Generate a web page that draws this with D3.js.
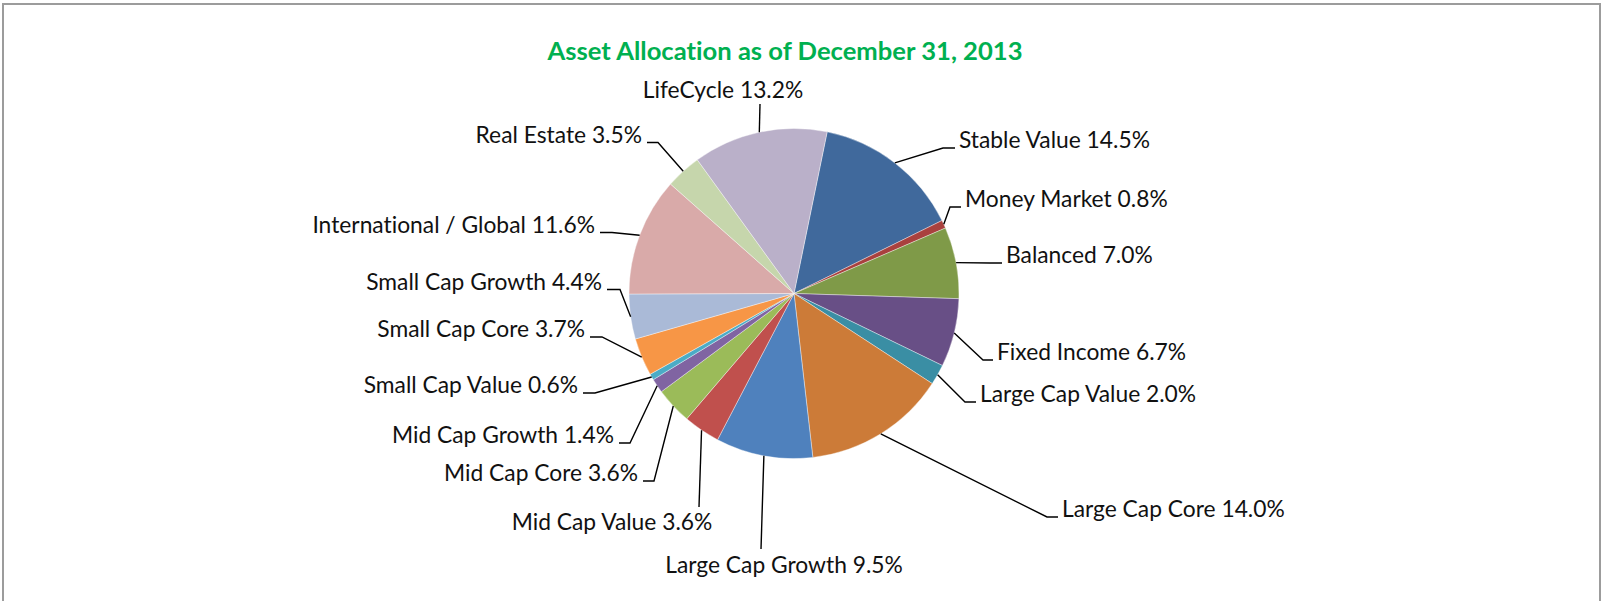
<!DOCTYPE html>
<html>
<head>
<meta charset="utf-8">
<script src="https://cdn.jsdelivr.net/npm/d3@7"></script>
<style>
  html, body { margin: 0; padding: 0; background: #fff; }
  svg { display: block; }
  text { font-variant-ligatures: none; font-feature-settings: "liga" 0, "clig" 0; }
</style>
</head>
<body>
<div id="chart"></div>
<script>
// Plan assets by fund category, in the order they run clockwise round the pie
const categories = [
  "Stable Value", "Money Market", "Balanced", "Fixed Income",
  "Large Cap Value", "Large Cap Core", "Large Cap Growth",
  "Mid Cap Value", "Mid Cap Core", "Mid Cap Growth",
  "Small Cap Value", "Small Cap Core", "Small Cap Growth",
  "International / Global", "Real Estate", "LifeCycle"
];
const shares = [14.5, 0.8, 7.0, 6.7, 2.0, 14.0, 9.5, 3.6, 3.6, 1.4, 0.6, 3.7, 4.4, 11.6, 3.5, 13.2];
const sliceColors = [
  "#40699c", "#a9413e", "#7f9a48", "#684f86",
  "#3a8ea4", "#cc7b38", "#4f81bd",
  "#c0504d", "#9bbb59", "#8064a2",
  "#4bacc6", "#f79646", "#aabad7",
  "#d9aaa9", "#c6d6ac", "#bab0c9"
];
const chartTitle = "Asset Allocation as of December 31, 2013";

// Leader-line bends (relative to the pie centre) and the short horizontal tail
// that runs into each label; tail 0 means the label sits above/below a vertical leader.
const labelLayout = {
  "Stable Value":           { bend: [149, -145.5], tail: 12 },
  "Money Market":           { bend: [156, -86.5],  tail: 11 },
  "Balanced":               { bend: [196, -30.5],  tail: 12 },
  "Fixed Income":           { bend: [189, 66.5],   tail: 10 },
  "Large Cap Value":        { bend: [171, 108.5],  tail: 11 },
  "Large Cap Core":         { bend: [253, 223.5],  tail: 11 },
  "Large Cap Growth":       { bend: [-33, 255.5],  tail: 0, text: [23, 24] },
  "Mid Cap Value":          { bend: [-95, 213.5],  tail: 0, text: [-87, 23] },
  "Mid Cap Core":           { bend: [-140, 187.5], tail: -11 },
  "Mid Cap Growth":         { bend: [-164, 149.5], tail: -11 },
  "Small Cap Value":        { bend: [-199, 99.5],  tail: -12 },
  "Small Cap Core":         { bend: [-192, 43.5],  tail: -12 },
  "Small Cap Growth":       { bend: [-174, -4],    tail: -13 },
  "International / Global": { bend: [-182, -61],   tail: -12 },
  "Real Estate":            { bend: [-136, -151],  tail: -11 },
  "LifeCycle":              { bend: [-34, -189.5], tail: 0, text: [-37, -6] }
};

const W = 1606, H = 601;
const cx = 794, cy = 293.5, R = 165;
const firstSliceAngle = 11.6 * Math.PI / 180;

const svg = d3.select("#chart").append("svg")
  .attr("width", W).attr("height", H);

svg.append("rect").attr("width", W).attr("height", H).attr("fill", "#fff");

// chart frame
svg.append("rect")
  .attr("x", 3).attr("y", 4)
  .attr("width", 1597).attr("height", 640)
  .attr("fill", "none")
  .attr("stroke", "#9c9c9c")
  .attr("stroke-width", 2);

svg.append("text")
  .attr("x", 785).attr("y", 60)
  .attr("text-anchor", "middle")
  .attr("font-family", "Lato, 'Open Sans', sans-serif")
  .attr("font-weight", 700)
  .attr("font-size", 25.6)
  .attr("fill", "#00b050")
  .text(chartTitle);

const data = categories.map((name, i) => ({ name, value: shares[i], color: sliceColors[i] }));

const pie = d3.pie()
  .sort(null)
  .value(d => d.value)
  .startAngle(firstSliceAngle)
  .endAngle(firstSliceAngle + 2 * Math.PI);

const arcs = pie(data);
const arc = d3.arc().innerRadius(0).outerRadius(R);
const rim = d3.arc().innerRadius(R).outerRadius(R);

const g = svg.append("g").attr("transform", `translate(${cx},${cy})`);

g.selectAll("path.slice")
  .data(arcs)
  .join("path")
  .attr("class", "slice")
  .attr("d", arc)
  .attr("fill", d => d.data.color)
  .attr("stroke", "#ffffff")
  .attr("stroke-opacity", 0.55)
  .attr("stroke-width", 0.7);

const labelFont = "Lato, 'Open Sans', sans-serif";

arcs.forEach(d => {
  const lay = labelLayout[d.data.name];
  const start = rim.centroid(d);
  const bend = lay.bend;
  const pts = [start, bend];
  if (lay.tail !== 0) pts.push([bend[0] + lay.tail, bend[1]]);

  g.append("path")
    .attr("d", d3.line()(pts))
    .attr("fill", "none")
    .attr("stroke", "#000")
    .attr("stroke-width", 1.4);

  const label = `${d.data.name} ${d.data.value.toFixed(1)}%`;
  const t = g.append("text")
    .attr("font-family", labelFont)
    .attr("font-size", 22.8)
    .attr("fill", "#111")
    .text(label);

  if (lay.tail > 0) {
    t.attr("x", bend[0] + lay.tail + 4).attr("y", bend[1]).attr("text-anchor", "start");
  } else if (lay.tail < 0) {
    t.attr("x", bend[0] + lay.tail - 5).attr("y", bend[1]).attr("text-anchor", "end");
  } else {
    t.attr("x", bend[0] + lay.text[0]).attr("y", bend[1] + lay.text[1]).attr("text-anchor", "middle");
  }
});
</script>
</body>
</html>
